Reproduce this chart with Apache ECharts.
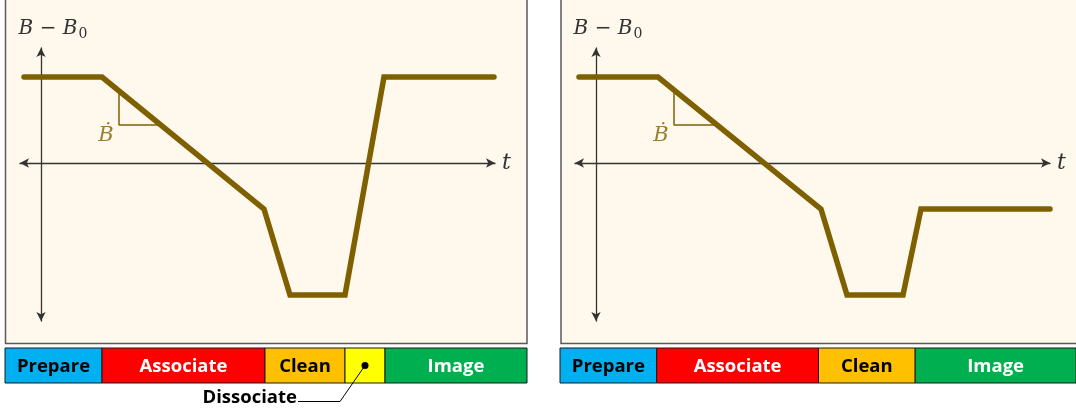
<!DOCTYPE html>
<html>
<head>
<meta charset="utf-8">
<script src="https://cdn.jsdelivr.net/npm/echarts@6/dist/echarts.min.js"></script>
<style>
  html, body { margin: 0; padding: 0; background: #fff; }
  #chart { width: 1076px; height: 412px; }
</style>
</head>
<body>
<div id="chart"></div>
<script>
// time / field values, origin where the two axes cross
const curveLeft = [[-17, 86], [61, 86], [223, -46], [249, -132], [304, -132], [343, 86], [453, 86]];
const curveRight = [[-17, 86], [62, 86], [225, -46], [251, -132], [307, -132], [325, -46], [454, -46]];
const slopeMark = [[78, 72], [78, 38], [120, 38]];
const slopeLabelAt = [78, 38];

const phaseNamesLeft = ['Prepare', 'Associate', 'Clean', 'Dissociate', 'Image'];
const phaseEdgesLeft = [-36, 61, 224, 304, 344, 486];
const phaseNamesRight = ['Prepare', 'Associate', 'Clean', 'Image'];
const phaseEdgesRight = [-36, 62, 226, 324, 487];

const tRange = [-21, 454];
const bRange = [-158, 115];

const phaseStyle = {
  Prepare: { fill: '#00B0F0', text: '#000' },
  Associate: { fill: '#FF0000', text: '#fff' },
  Clean: { fill: '#FFC000', text: '#000' },
  Dissociate: { fill: '#FFFF00', text: '#000' },
  Image: { fill: '#00B050', text: '#fff' },
};

const curveColor = '#7F6000';
const axisColor = '#333333';
const labelFont = 'bold 18.5px "Open Sans"';

const chart = echarts.init(document.getElementById('chart'), null, { renderer: 'canvas' });

function phaseData(edges) {
  return edges.slice(0, -1).map((e, i) => [e, edges[i + 1]]);
}

function makePhaseRenderer(names) {
  return function (params, api) {
    const name = names[params.dataIndex];
    const p0 = api.coord([api.value(0), 1]);
    const p1 = api.coord([api.value(1), 0]);
    const st = phaseStyle[name];
    const rect = {
      type: 'rect',
      shape: { x: p0[0], y: p0[1], width: p1[0] - p0[0], height: p1[1] - p0[1] },
      style: { fill: st.fill, stroke: '#1a1a1a', lineWidth: 1 },
    };
    if (name !== 'Dissociate') {
      rect.textContent = { style: { text: name, fill: st.text, font: labelFont } };
      rect.textConfig = { position: 'inside', offset: [0, 1.5] };
      return rect;
    }
    // dissociate: dot + leader line + label under the bar
    const cx = (p0[0] + p1[0]) / 2;
    const cy = (p0[1] + p1[1]) / 2;
    return {
      type: 'group',
      children: [
        rect,
        { type: 'circle', shape: { cx: cx, cy: cy, r: 3.5 }, style: { fill: '#000' } },
        {
          type: 'polyline',
          shape: { points: [[cx, cy], [cx - 25, cy + 36], [cx - 67, cy + 36]] },
          style: { stroke: '#000', lineWidth: 1, fill: null },
        },
        {
          type: 'text',
          x: cx - 68,
          y: cy + 42,
          style: { text: 'Dissociate', fill: '#000', font: labelFont, align: 'right', verticalAlign: 'bottom' },
        },
      ],
    };
  };
}

function curveAxes(gridIndex) {
  const line = {
    show: true,
    onZero: true,
    symbol: ['arrow', 'arrow'],
    symbolSize: [7, 9],
    lineStyle: { color: axisColor, width: 1.3 },
  };
  return {
    x: {
      type: 'value', gridIndex, min: tRange[0], max: tRange[1],
      axisLine: line, axisTick: { show: false }, axisLabel: { show: false }, splitLine: { show: false },
      name: 't', nameLocation: 'end', nameGap: 7,
      nameTextStyle: { fontFamily: 'DejaVu Serif', fontStyle: 'italic', fontSize: 22, color: axisColor, verticalAlign: 'middle', padding: [2, 0, 0, 0] },
    },
    y: {
      type: 'value', gridIndex, min: bRange[0], max: bRange[1],
      axisLine: line, axisTick: { show: false }, axisLabel: { show: false }, splitLine: { show: false },
      name: '{i|B − B}{s|0}', nameLocation: 'end', nameGap: 7,
      nameTextStyle: {
        padding: [0, 0, 0, 24],
        rich: {
          i: { fontFamily: 'DejaVu Serif', fontStyle: 'italic', fontSize: 20, color: axisColor },
          s: { fontFamily: 'DejaVu Serif', fontSize: 14, color: axisColor, padding: [10, 0, 0, 1] },
        },
      },
    },
  };
}

function phaseAxes(gridIndex, max) {
  return {
    x: { type: 'value', gridIndex, min: -36, max: max, show: false },
    y: { type: 'value', gridIndex, min: 0, max: 1, show: false },
  };
}

const axL = curveAxes(0), axR = curveAxes(1);
const phL = phaseAxes(2, phaseEdgesLeft[phaseEdgesLeft.length - 1]);
const phR = phaseAxes(3, phaseEdgesRight[phaseEdgesRight.length - 1]);

function slopeSeries(xi) {
  return {
    type: 'line', xAxisIndex: xi, yAxisIndex: xi, data: slopeMark,
    symbol: 'none', silent: true,
    lineStyle: { color: curveColor, width: 1.5 },
  };
}

function slopeLabel(xi) {
  return {
    type: 'scatter', xAxisIndex: xi, yAxisIndex: xi, data: [slopeLabelAt],
    symbol: 'circle', symbolSize: 1, silent: true,
    itemStyle: { color: 'rgba(0,0,0,0)' },
    label: {
      show: true, formatter: 'Ḃ', position: 'inside', offset: [-13, 11],
      fontFamily: 'DejaVu Serif', fontStyle: 'italic', fontSize: 21, color: curveColor,
    },
  };
}

function curveSeries(xi, data) {
  return {
    type: 'line', xAxisIndex: xi, yAxisIndex: xi, data,
    symbol: 'none', silent: true, z: 3,
    lineStyle: { color: curveColor, width: 5.5, cap: 'round', join: 'miter' },
  };
}

chart.setOption({
  animation: false,
  graphic: {
    elements: [
      { type: 'rect', z: -10, shape: { x: 5.5, y: -5, width: 521.5, height: 348.5 }, style: { fill: '#FFF8EC', stroke: '#5a5a5a', lineWidth: 1.5 } },
      { type: 'rect', z: -10, shape: { x: 561, y: -5, width: 530, height: 348.5 }, style: { fill: '#FFF8EC', stroke: '#5a5a5a', lineWidth: 1.5 } },
    ],
  },
  grid: [
    { left: 20, top: 48, width: 475, height: 273 },
    { left: 575, top: 48, width: 475, height: 273 },
    { left: 5, top: 348, width: 522, height: 35 },
    { left: 560, top: 348, width: 522, height: 35 },
  ],
  xAxis: [axL.x, axR.x, phL.x, phR.x],
  yAxis: [axL.y, axR.y, phL.y, phR.y],
  series: [
    slopeSeries(0),
    slopeLabel(0),
    curveSeries(0, curveLeft),
    slopeSeries(1),
    slopeLabel(1),
    curveSeries(1, curveRight),
    {
      type: 'custom', xAxisIndex: 2, yAxisIndex: 2, renderItem: makePhaseRenderer(phaseNamesLeft), silent: true,
      encode: { x: [0, 1] }, data: phaseData(phaseEdgesLeft),
    },
    {
      type: 'custom', xAxisIndex: 3, yAxisIndex: 3, renderItem: makePhaseRenderer(phaseNamesRight), silent: true,
      encode: { x: [0, 1] }, data: phaseData(phaseEdgesRight),
    },
  ],
});

window.addEventListener('resize', () => chart.resize());
</script>
</body>
</html>
